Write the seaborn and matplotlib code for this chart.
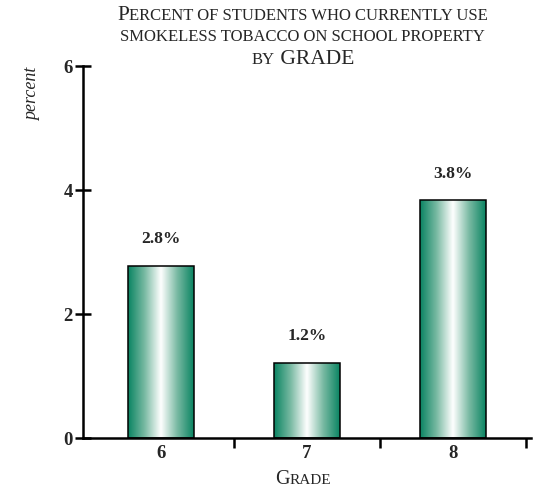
import numpy as np
import pandas as pd
import matplotlib
matplotlib.use("Agg")
import matplotlib.pyplot as plt
import seaborn as sns
from matplotlib.colors import LinearSegmentedColormap
from matplotlib.offsetbox import TextArea, HPacker, AnnotationBbox

grades = ["6", "7", "8"]
percent = [2.78, 1.22, 3.84]
bar_labels = ["2.8%", "1.2%", "3.8%"]
y_ticks = [0, 2, 4, 6]

sns.set_theme(style="white")
plt.rcParams['font.family'] = ['Liberation Serif', 'DejaVu Serif']

df = pd.DataFrame({"grade": grades, "percent": percent})

fig = plt.figure(figsize=(5.33, 4.94), dpi=100)
ax = fig.add_axes([0.156, 0.113, 0.84, 0.753])

sns.barplot(data=df, x="grade", y="percent", width=0.45, ax=ax,
            color="white", edgecolor="black", linewidth=1.1)

# gradient fill: green edges, white middle
green = "#0a8462"
cmap = LinearSegmentedColormap.from_list("bar", [green, "#78b9a2", "white", "#78b9a2", green])
grad = np.linspace(0, 1, 256).reshape(1, -1)
for p in ax.patches:
    x0, y0 = p.get_x(), p.get_y()
    w, h = p.get_width(), p.get_height()
    im = ax.imshow(grad, cmap=cmap, aspect="auto", extent=[x0, x0 + w, y0, y0 + h],
                   zorder=p.get_zorder() - 0.1, interpolation="bicubic")
    im.set_clip_path(p)
    p.set_facecolor("none")
    p.set_zorder(3)

for i, (v, lab) in enumerate(zip(percent, bar_labels)):
    ax.text(i, v + 0.3, lab, ha="center", va="bottom", fontsize=12.5, fontweight="bold")

ax.set_xlim(-0.53, 2.53)
ax.set_ylim(0, 6)
ax.set_yticks(y_ticks)
ax.set_yticklabels([str(t) for t in y_ticks], fontsize=13.5, fontweight="bold")
ax.set_xticks(range(len(grades)))
ax.set_xticklabels(grades, fontsize=13.5, fontweight="bold")
ax.set_xticks([0.5, 1.5, 2.5], minor=True)
ax.tick_params(axis="x", which="major", length=0, pad=5)
ax.tick_params(axis="x", which="minor", length=7, width=1.8, direction="out", color="black", bottom=True)
ax.tick_params(axis="y", which="major", length=11, width=1.8, direction="inout", color="black", left=True, pad=2)

sns.despine(ax=ax, top=True, right=True)
for s in ["left", "bottom"]:
    ax.spines[s].set_linewidth(1.8)
    ax.spines[s].set_color("black")

ax.set_xlabel("")
ax.set_ylabel("")
fig.text(0.062, 0.81, "percent", rotation=90, style="italic", fontsize=13,
         ha="center", va="center")


def small_caps(parts, pos):
    kids = [TextArea(t, textprops=dict(fontsize=s, family="Liberation Serif")) for t, s in parts]
    box = HPacker(children=kids, align="baseline", pad=0, sep=0)
    ab = AnnotationBbox(box, pos, xycoords="figure fraction", frameon=False,
                        box_alignment=(0.5, 0.5))
    fig.add_artist(ab)


big, small = 15.5, 12
small_caps([("P", big), ("ERCENT OF STUDENTS WHO CURRENTLY USE", small)], (0.568, 0.969))
small_caps([("SMOKELESS TOBACCO ON SCHOOL PROPERTY", small)], (0.568, 0.926))
small_caps([("BY", small), (" GRADE", big)], (0.568, 0.880))
small_caps([("G", big - 1), ("RADE", small - 1)], (0.568, 0.030))

fig.savefig("out.png", dpi=100)
